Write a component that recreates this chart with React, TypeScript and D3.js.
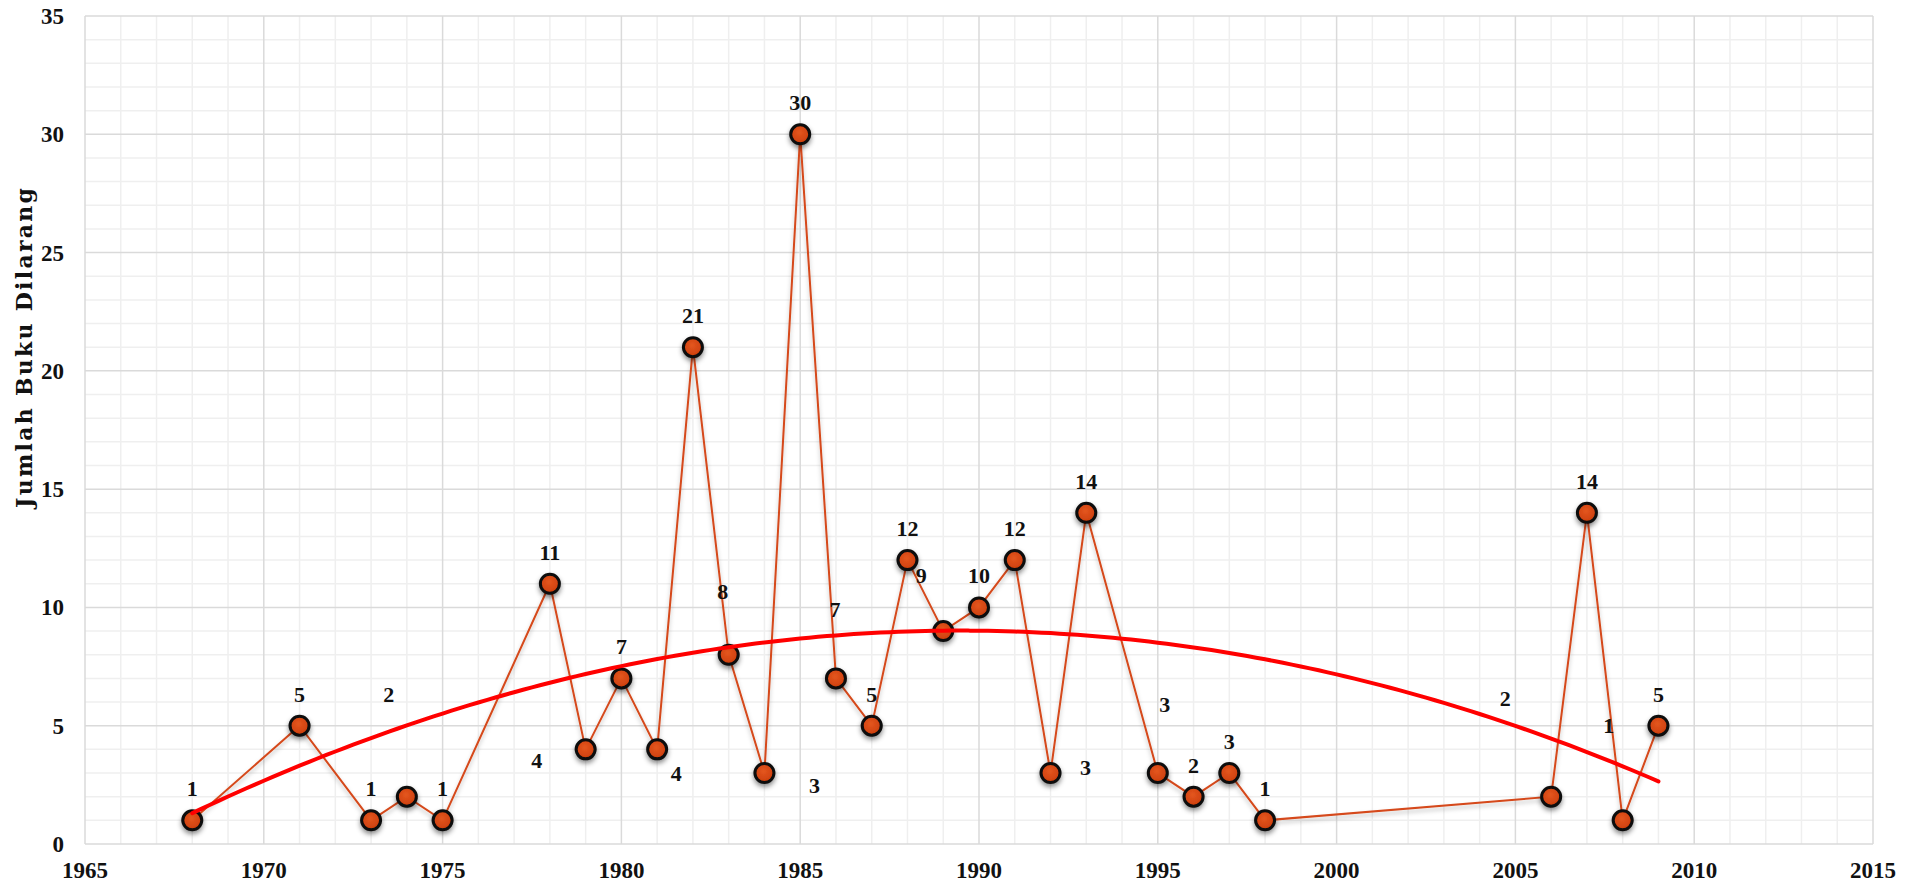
import { useMemo } from 'react'
import * as d3 from 'd3'

const WIDTH = 1908
const HEIGHT = 886
const MARGIN = { top: 16, right: 35, bottom: 42, left: 85 }

// tahun dan jumlah buku yang dilarang
const years = [
  1968, 1971, 1973, 1974, 1975, 1978, 1979, 1980, 1981, 1982,
  1983, 1984, 1985, 1986, 1987, 1988, 1989, 1990, 1991, 1992,
  1993, 1995, 1996, 1997, 1998, 2006, 2007, 2008, 2009
]
const counts = [
  1, 5, 1, 2, 1, 11, 4, 7, 4, 21,
  8, 3, 30, 7, 5, 12, 9, 10, 12, 3,
  14, 3, 2, 3, 1, 2, 14, 1, 5
]

const xTicks = [1965, 1970, 1975, 1980, 1985, 1990, 1995, 2000, 2005, 2010, 2015]
const yTicks = [0, 5, 10, 15, 20, 25, 30, 35]

// label offsets (px) where the label is not just above the point
const LABEL_SHIFT: Record<number, [number, number]> = {
  1974: [-18, -71],
  1979: [-49, 43],
  1981: [19, 56],
  1983: [-6, -32],
  1984: [50, 44],
  1986: [-1, -37],
  1989: [-22, -24],
  1992: [35, 26],
  1995: [7, -37],
  2006: [-46, -67],
  2008: [-14, -63]
}

const LABEL_FONT = '"Liberation Serif", "Times New Roman", serif'
const TITLE_FONT = '"DejaVu Serif", "Liberation Serif", serif'

// quadratic least squares trend (like the spreadsheet trendline)
function quadFit(xs: number[], ys: number[]) {
  const mx = d3.mean(xs) as number
  const u = xs.map(x => x - mx)
  const s = (p: number) => d3.sum(u, v => Math.pow(v, p))
  const t = (p: number) => d3.sum(u, (v, i) => Math.pow(v, p) * ys[i])
  const A = [
    [xs.length, s(1), s(2)],
    [s(1), s(2), s(3)],
    [s(2), s(3), s(4)]
  ]
  const b = [t(0), t(1), t(2)]
  // gaussian elimination
  for (let i = 0; i < 3; i++) {
    for (let j = i + 1; j < 3; j++) {
      const f = A[j][i] / A[i][i]
      for (let k = i; k < 3; k++) A[j][k] -= f * A[i][k]
      b[j] -= f * b[i]
    }
  }
  const c = [0, 0, 0]
  for (let i = 2; i >= 0; i--) {
    let acc = b[i]
    for (let k = i + 1; k < 3; k++) acc -= A[i][k] * c[k]
    c[i] = acc / A[i][i]
  }
  return (x: number) => c[0] + c[1] * (x - mx) + c[2] * (x - mx) * (x - mx)
}

export default function App() {
  const innerW = WIDTH - MARGIN.left - MARGIN.right
  const innerH = HEIGHT - MARGIN.top - MARGIN.bottom

  const x = d3.scaleLinear().domain([1965, 2015]).range([MARGIN.left, MARGIN.left + innerW])
  const y = d3.scaleLinear().domain([0, 35]).range([MARGIN.top + innerH, MARGIN.top])

  const points = years.map((yr, i) => ({ year: yr, value: counts[i] }))

  const trend = useMemo(() => {
    const f = quadFit(years, counts)
    const xs = d3.range(years[0], years[years.length - 1] + 0.01, 0.25)
    return xs.map(v => [v, f(v)] as [number, number])
  }, [])

  const line = d3.line<{ year: number; value: number }>()
    .x(d => x(d.year))
    .y(d => y(d.value))

  const trendLine = d3.line<[number, number]>()
    .x(d => x(d[0]))
    .y(d => y(d[1]))
    .curve(d3.curveMonotoneX)

  const minorX = d3.range(1965, 2016, 1)
  const minorY = d3.range(0, 36, 1)

  return (
    <svg
      width={WIDTH}
      height={HEIGHT}
      style={{ position: 'absolute', left: 0, top: 0, background: '#fff' }}
    >
      <defs>
        <filter id="shadow" x="-50%" y="-50%" width="200%" height="200%">
          <feDropShadow dx="0" dy="3" stdDeviation="2.5" floodColor="#000" floodOpacity="0.45" />
        </filter>
        <filter id="lineShadow" x="-5%" y="-5%" width="110%" height="110%">
          <feDropShadow dx="0" dy="3" stdDeviation="2" floodColor="#000" floodOpacity="0.25" />
        </filter>
        <radialGradient id="dot" cx="45%" cy="40%" r="60%">
          <stop offset="0%" stopColor="#e4561f" />
          <stop offset="100%" stopColor="#cc3e0c" />
        </radialGradient>
      </defs>

      {/* minor grid */}
      {minorX.filter(v => v % 5 !== 0).map(v => (
        <line key={`mx-${v}`} x1={x(v)} x2={x(v)} y1={y(0)} y2={y(35)} stroke="#efefef" strokeWidth={1.5} />
      ))}
      {minorY.filter(v => v % 5 !== 0).map(v => (
        <line key={`my-${v}`} x1={x(1965)} x2={x(2015)} y1={y(v)} y2={y(v)} stroke="#efefef" strokeWidth={1.5} />
      ))}

      {/* major grid */}
      {xTicks.map(v => (
        <line key={`gx-${v}`} x1={x(v)} x2={x(v)} y1={y(0)} y2={y(35)} stroke="#dadada" strokeWidth={1.5} />
      ))}
      {yTicks.map(v => (
        <line key={`gy-${v}`} x1={x(1965)} x2={x(2015)} y1={y(v)} y2={y(v)} stroke="#dadada" strokeWidth={1.5} />
      ))}

      {/* tick labels */}
      {xTicks.map(v => (
        <text
          key={`xt-${v}`}
          x={x(v)}
          y={878}
          textAnchor="middle"
          fontFamily={LABEL_FONT}
          fontWeight="bold"
          fontSize={23}
          fill="#111"
        >
          {v}
        </text>
      ))}
      {yTicks.map(v => (
        <text
          key={`yt-${v}`}
          x={64}
          y={y(v) + 8}
          textAnchor="end"
          fontFamily={LABEL_FONT}
          fontWeight="bold"
          fontSize={23}
          fill="#111"
        >
          {v}
        </text>
      ))}

      {/* y axis title */}
      <text
        transform={`translate(32, 348) rotate(-90)`}
        textAnchor="middle"
        fontFamily={TITLE_FONT}
        fontWeight="bold"
        fontSize={22}
        textLength={320}
        lengthAdjust="spacing"
        fill="#111"
      >
        Jumlah Buku Dilarang
      </text>

      {/* data line */}
      <path d={line(points) || ''} fill="none" stroke="#d5481a" strokeWidth={2} filter="url(#lineShadow)" />

      {/* markers */}
      {points.map(p => (
        <circle
          key={`pt-${p.year}`}
          cx={x(p.year)}
          cy={y(p.value)}
          r={9.5}
          fill="url(#dot)"
          stroke="#0a0a0a"
          strokeWidth={3}
          filter="url(#shadow)"
        />
      ))}

      {/* trendline */}
      <path d={trendLine(trend) || ''} fill="none" stroke="#ff0000" strokeWidth={4} strokeLinecap="round" />

      {/* value labels */}
      {points.map(p => {
        const [dx, dy] = LABEL_SHIFT[p.year] || [0, 0]
        return (
          <text
            key={`lb-${p.year}`}
            x={x(p.year) + dx}
            y={y(p.value) - 24 + dy}
            textAnchor="middle"
            fontFamily={LABEL_FONT}
            fontWeight="bold"
            fontSize={22}
            fill="#111"
          >
            {p.value}
          </text>
        )
      })}
    </svg>
  )
}
